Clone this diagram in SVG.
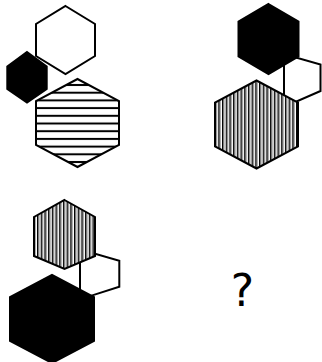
<svg xmlns="http://www.w3.org/2000/svg" width="322" height="362" viewBox="0 0 322 362">
  <style>
    .hex { stroke: #000; stroke-width: 2; stroke-linejoin: miter; }
    .white { fill: #fff; }
    .black { fill: #000; }
    .hstripe { fill: url(#hstripes); }
    .vstripe { fill: url(#vstripes); }
    .q { font-family: "DejaVu Sans", sans-serif; font-size: 44px; fill: #000; }
  </style>
  <defs>
    <pattern id="hstripes" patternUnits="userSpaceOnUse" x="0" y="81.15" width="10" height="7.7">
      <rect width="10" height="7.7" fill="#fff"/>
      <rect y="2.85" width="10" height="2" fill="#000"/>
    </pattern>
    <pattern id="vstripes" patternUnits="userSpaceOnUse" x="0" y="0" width="3.7" height="10">
      <rect width="3.7" height="10" fill="#fff"/>
      <rect x="0" width="1.5" height="10" fill="#000"/>
      <rect x="1.5" width="1" height="10" fill="#999"/>
    </pattern>
  </defs>
  <rect width="322" height="362" fill="#fff"/>

  <g id="panel1">
    <g id="p1-black-small"><polygon class="hex black" points="27,52 46.7,66.5 46.7,89 27,102.5 7.3,89 7.3,66.5"/></g>
    <g id="p1-white"><polygon class="hex white" points="65.5,6 95,24 95,56 65.5,74 36,56 36,24"/></g>
    <g id="p1-hstriped"><polygon class="hex hstripe" points="77.5,79 119,101 119,145 77.5,167 36,145 36,101"/></g>
  </g>

  <g id="panel2">
    <g id="p2-white-small"><polygon class="hex white" points="284,61 296,57.5 320.5,64.5 320.5,91 292,103.5 284,103"/></g>
    <g id="p2-black"><polygon class="hex black" points="268.5,4 298.5,21.5 298.5,56.5 268.5,74 238.5,56.5 238.5,21.5"/></g>
    <g id="p2-vstriped"><polygon class="hex vstripe" points="256.5,80.5 298,102.5 298,146.5 256.5,168.5 215,146.5 215,102.5"/></g>
  </g>

  <g id="panel3">
    <g id="p3-white-small"><polygon class="hex white" points="80,255 90,252.3 119.3,260.7 119.3,286.7 90,296.1 80,296"/></g>
    <g id="p3-vstriped"><polygon class="hex vstripe" points="64.5,200 95,217 95,256 64.5,269 34,256 34,217"/></g>
    <g id="p3-black"><polygon class="hex black" points="52,275 94,297 94,341 52,363 10,341 10,297"/></g>
  </g>

  <g id="connectors"></g>

  <g id="question"><text class="q" x="242.5" y="305.5" text-anchor="middle">?</text></g>
</svg>
